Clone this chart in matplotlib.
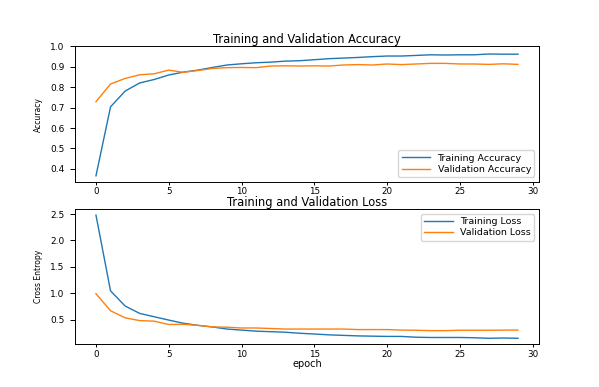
import matplotlib
matplotlib.use("Agg")
import matplotlib.pyplot as plt

epochs = list(range(30))
train_acc = [0.366, 0.704, 0.781, 0.821, 0.838, 0.860, 0.874, 0.884, 0.897, 0.909,
             0.915, 0.920, 0.923, 0.928, 0.930, 0.935, 0.940, 0.943, 0.946, 0.950,
             0.953, 0.953, 0.956, 0.959, 0.958, 0.959, 0.959, 0.963, 0.962, 0.962]
val_acc = [0.729, 0.816, 0.843, 0.861, 0.866, 0.884, 0.873, 0.882, 0.892, 0.896,
           0.897, 0.896, 0.904, 0.905, 0.904, 0.905, 0.904, 0.909, 0.911, 0.909,
           0.914, 0.911, 0.914, 0.917, 0.917, 0.914, 0.914, 0.912, 0.915, 0.912]
train_loss = [2.48, 1.044, 0.757, 0.617, 0.553, 0.49, 0.43, 0.39, 0.36, 0.32,
              0.30, 0.28, 0.27, 0.26, 0.24, 0.226, 0.21, 0.20, 0.19, 0.185,
              0.18, 0.18, 0.165, 0.16, 0.16, 0.16, 0.155, 0.145, 0.15, 0.145]
val_loss = [0.99, 0.667, 0.533, 0.48, 0.47, 0.406, 0.41, 0.39, 0.36, 0.355,
            0.34, 0.34, 0.33, 0.32, 0.32, 0.32, 0.32, 0.32, 0.31, 0.31,
            0.31, 0.30, 0.297, 0.29, 0.29, 0.297, 0.297, 0.297, 0.30, 0.30]

leg_kw = dict(fontsize=6.8, handlelength=3.0, labelspacing=0.25, borderpad=0.35,
              borderaxespad=0.5)

fig = plt.figure(figsize=(5.99, 3.87), dpi=100)
ax1 = fig.add_subplot(2, 1, 1)
ax1.plot(epochs, train_acc, label="Training Accuracy", lw=1.0)
ax1.plot(epochs, val_acc, label="Validation Accuracy", lw=1.0)
ax1.legend(loc="lower right", **leg_kw)
ax1.set_ylabel("Accuracy", fontsize=5.5, labelpad=5)
ax1.set_ylim(min(ax1.get_ylim()), 1.0)
ax1.set_title("Training and Validation Accuracy", fontsize=8.3, pad=2)

ax2 = fig.add_subplot(2, 1, 2)
ax2.plot(epochs, train_loss, label="Training Loss", lw=1.0)
ax2.plot(epochs, val_loss, label="Validation Loss", lw=1.0)
ax2.legend(loc="upper right", **leg_kw)
ax2.set_ylabel("Cross Entropy", fontsize=5.5, labelpad=5)
ax2.set_title("Training and Validation Loss", fontsize=8.3, pad=1.5)
ax2.set_xlabel("epoch", fontsize=7, labelpad=0.5)

for ax in (ax1, ax2):
    ax.tick_params(axis="y", labelsize=6.5, length=3.5, pad=4)
    ax.tick_params(axis="x", labelsize=6.3, length=2.3, pad=1.5)
    for s in ax.spines.values():
        s.set_linewidth(0.7)
    ax.tick_params(width=0.7)

fig.savefig("out.png", dpi=100)
